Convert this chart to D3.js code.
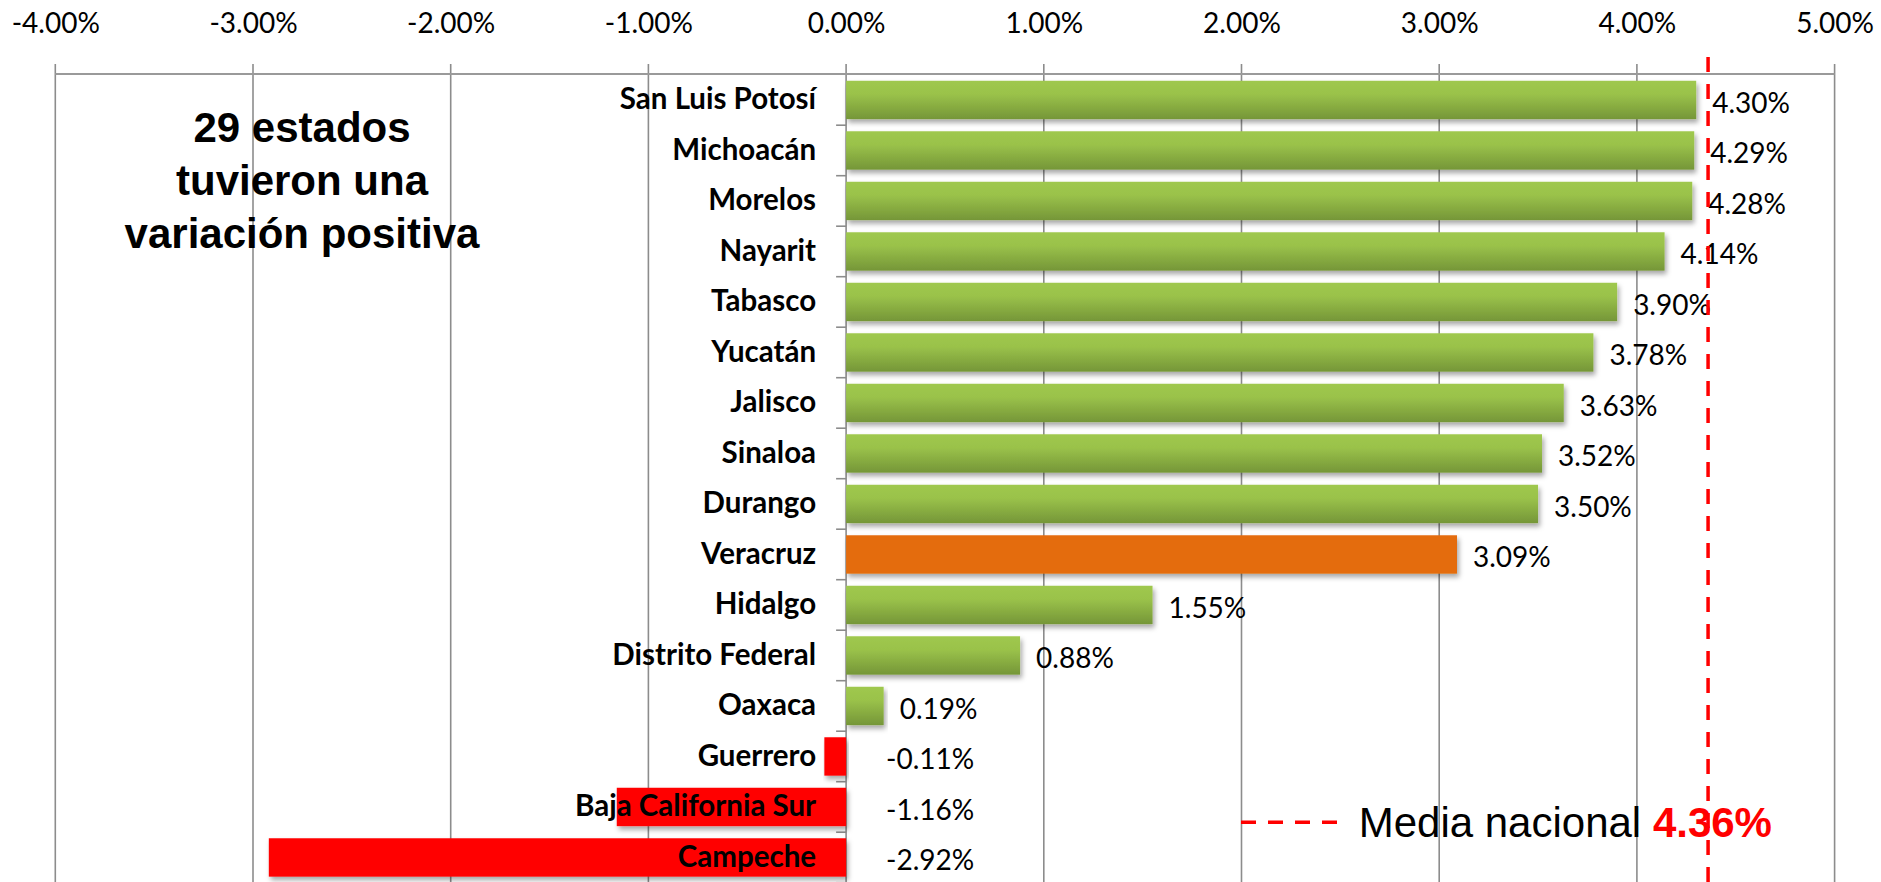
<!DOCTYPE html>
<html>
<head>
<meta charset="utf-8">
<script src="https://cdn.jsdelivr.net/npm/d3@7"></script>
<style>
  html, body { margin: 0; padding: 0; background: #ffffff; }
  svg { display: block; }
</style>
</head>
<body>
<svg id="chart" width="1881" height="882"></svg>
<script>
// ---- data ----
const states = ["San Luis Potosí","Michoacán","Morelos","Nayarit","Tabasco","Yucatán","Jalisco","Sinaloa","Durango","Veracruz","Hidalgo","Distrito Federal","Oaxaca","Guerrero","Baja California Sur","Campeche"];
const values = [4.30, 4.29, 4.28, 4.14, 3.90, 3.78, 3.63, 3.52, 3.50, 3.09, 1.55, 0.88, 0.19, -0.11, -1.16, -2.92];
const highlightState = "Veracruz";
const nationalMean = 4.36;
const xTickValues = [-4, -3, -2, -1, 0, 1, 2, 3, 4, 5];
const noteLines = ["29 estados", "tuvieron una", "variación positiva"];
const legendLabel = "Media nacional ";

// ---- layout ----
const W = 1881, H = 882;
const svg = d3.select("#chart");
svg.append("rect").attr("width", W).attr("height", H).attr("fill", "#fff");

const x = d3.scaleLinear().domain([-4, 5]).range([55.3, 1834.6]);
const y = d3.scaleBand().domain(states).range([74.7, 882.7]).paddingInner(0.24).paddingOuter(0.12);

const locale = d3.formatLocale({ decimal: ".", thousands: ",", grouping: [3], currency: ["$", ""], minus: "-" });
const fmt = v => locale.format(".2f")(v) + "%";
const data = states.map((s, i) => ({ s, v: values[i] }));

// defs
const defs = svg.append("defs");
const grad = defs.append("linearGradient").attr("id", "gGreen").attr("x1", 0).attr("y1", 0).attr("x2", 0).attr("y2", 1);
grad.append("stop").attr("offset", "0").attr("stop-color", "#9fc84e");
grad.append("stop").attr("offset", "0.35").attr("stop-color", "#9ac24a");
grad.append("stop").attr("offset", "1").attr("stop-color", "#759638");
const filt = defs.append("filter").attr("id", "shadow").attr("x", "-5%").attr("y", "-30%").attr("width", "115%").attr("height", "170%");
filt.append("feDropShadow").attr("dx", 2).attr("dy", 3.5).attr("stdDeviation", 2.5)
  .attr("flood-color", "#000").attr("flood-opacity", 0.35);

// gridlines
const gridTop = 64;
svg.append("g").selectAll("line").data(xTickValues).join("line")
  .attr("x1", d => x(d)).attr("x2", d => x(d))
  .attr("y1", gridTop).attr("y2", H)
  .attr("stroke", "#8c8c8c").attr("stroke-width", 1.6);

// top axis line
svg.append("line")
  .attr("x1", x(-4)).attr("x2", x(5))
  .attr("y1", 74).attr("y2", 74)
  .attr("stroke", "#9a9a9a").attr("stroke-width", 2);

// top axis labels
const xAxis = d3.axisTop(x).tickValues(xTickValues).tickFormat(fmt).tickSize(0).tickPadding(0);
const gx = svg.append("g").attr("transform", "translate(0,33)").call(xAxis);
gx.select(".domain").remove();
gx.selectAll("text")
  .attr("font-family", "Lato, 'Open Sans', sans-serif")
  .attr("font-size", 28).attr("fill", "#000").attr("dy", 0);

// category axis boundary ticks
const boundaries = d3.range(states.length + 1).map(i => y.range()[0] + i * y.step());
svg.append("g").selectAll("line").data(boundaries.slice(1)).join("line")
  .attr("x1", x(0) - 10).attr("x2", x(0))
  .attr("y1", d => d).attr("y2", d => d)
  .attr("stroke", "#8c8c8c").attr("stroke-width", 1.6);

// bars
svg.append("g").selectAll("rect").data(data).join("rect")
  .attr("x", d => x(Math.min(0, d.v)))
  .attr("width", d => Math.abs(x(d.v) - x(0)))
  .attr("y", d => y(d.s))
  .attr("height", y.bandwidth())
  .attr("fill", d => d.s === highlightState ? "#e46c0a" : (d.v < 0 ? "#ff0000" : "url(#gGreen)"))
  .attr("filter", "url(#shadow)");

// note text
svg.append("text")
  .attr("font-family", "'Liberation Sans', Arial, sans-serif")
  .attr("font-weight", "bold").attr("font-size", 42).attr("text-anchor", "middle")
  .selectAll("tspan").data(noteLines).join("tspan")
  .attr("x", 302).attr("y", (d, i) => 141.7 + i * 53.2)
  .text(d => d);

// category labels
svg.append("g").selectAll("text").data(data).join("text")
  .attr("x", x(0) - 30)
  .attr("y", d => y(d.s) + y.bandwidth() / 2 + 9.5)
  .attr("text-anchor", "end")
  .attr("font-family", "Lato, 'Open Sans', sans-serif")
  .attr("font-weight", "bold").attr("font-size", 29.5).attr("fill", "#000")
  .text(d => d.s);

// value labels
svg.append("g").selectAll("text").data(data).join("text")
  .attr("x", d => d.v >= 0 ? x(d.v) + 16 : x(0) + 40)
  .attr("y", d => y(d.s) + y.bandwidth() / 2 + 13)
  .attr("font-family", "Lato, 'Open Sans', sans-serif")
  .attr("font-size", 28).attr("fill", "#000")
  .text(d => fmt(d.v));

// national mean line
svg.append("line")
  .attr("x1", x(nationalMean)).attr("x2", x(nationalMean))
  .attr("y1", 57).attr("y2", H)
  .attr("stroke", "#ff0000").attr("stroke-width", 3.5).attr("stroke-dasharray", "15,12");

// legend
svg.append("line")
  .attr("x1", 1241).attr("x2", 1337).attr("y1", 822.3).attr("y2", 822.3)
  .attr("stroke", "#ff0000").attr("stroke-width", 3.5).attr("stroke-dasharray", "15,12");
const lt = svg.append("text").attr("x", 1358.7).attr("y", 836.7)
  .attr("font-family", "'Liberation Sans', Arial, sans-serif").attr("font-size", 42).attr("fill", "#000");
lt.append("tspan").text(legendLabel);
lt.append("tspan").attr("font-weight", "bold").attr("fill", "#ff0000").text(fmt(nationalMean));
</script>
</body>
</html>
